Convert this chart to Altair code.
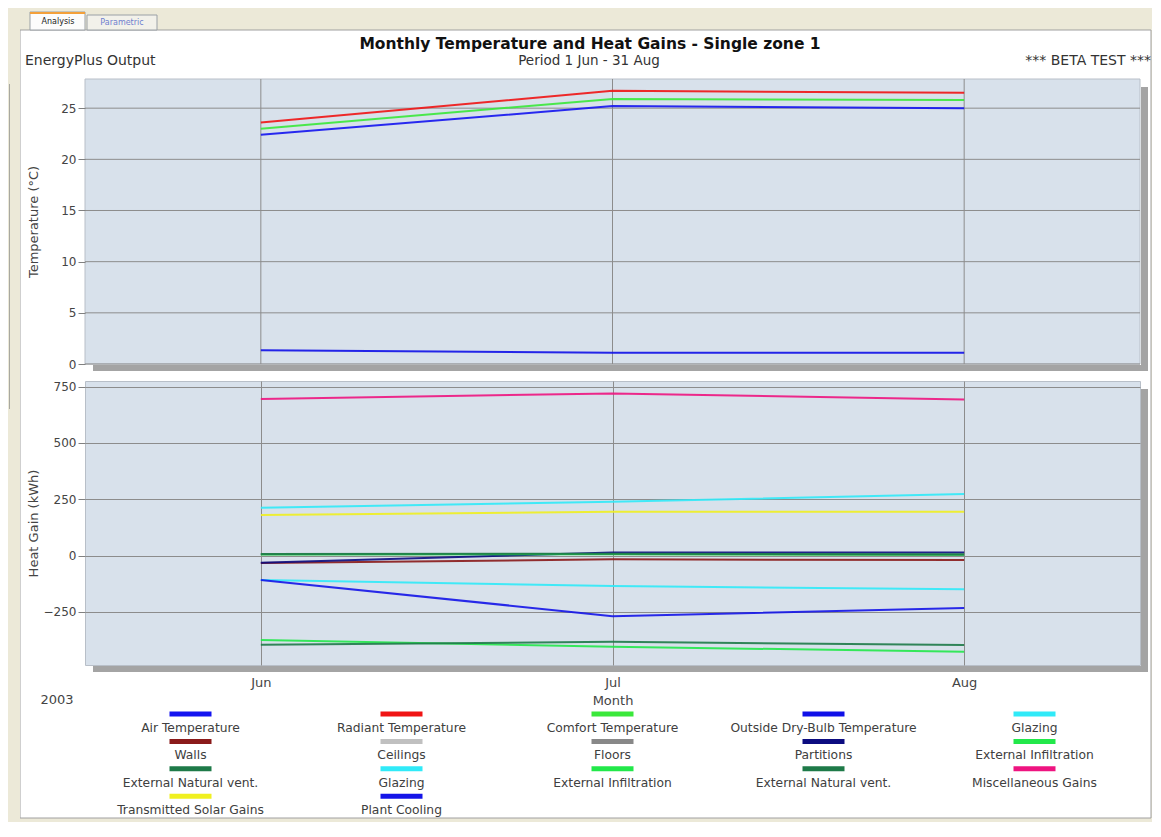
import altair as alt
import pandas as pd

# ---------------- data ----------------
month_labels = ["Jun", "Jul", "Aug"]

# Temperatures (°C)
air_temperature = [22.4, 25.2, 25.0]
radiant_temperature = [23.6, 26.7, 26.5]
comfort_temperature = [23.0, 25.9, 25.8]
outside_drybulb_temperature = [1.35, 1.1, 1.1]

# Heat gains (kWh)
glazing_a = [-109, -135, -150]
walls = [-33, -17, -20]
ceilings = [6, 7, 5]
floors = [6, 7, 5]
partitions = [-32, 14, 14]
external_infiltration_a = [5, 6, 4]
external_natural_vent_a = [7, 8, 5]
glazing_b = [212, 239, 273]
external_infiltration_b = [-375, -405, -427]
external_natural_vent_b = [-396, -383, -397]
miscellaneous_gains = [695, 720, 693]
transmitted_solar_gains = [180, 194, 194]
plant_cooling = [-109, -269, -233]

temp_ticks = [0, 5, 10, 15, 20, 25]
gain_ticks = [-250, 0, 250, 500, 750]

temp_keys = ["air", "radiant", "comfort", "outside"]
temp_values = [air_temperature, radiant_temperature, comfort_temperature,
               outside_drybulb_temperature]

gain_keys = ["ceilings", "floors", "glazing_a", "walls", "partitions",
             "extinf_a", "natvent_a", "glazing_b", "extinf_b", "natvent_b",
             "misc", "solar", "plant"]
gain_values = [ceilings, floors, glazing_a, walls, partitions,
               external_infiltration_a, external_natural_vent_a, glazing_b,
               external_infiltration_b, external_natural_vent_b,
               miscellaneous_gains, transmitted_solar_gains, plant_cooling]

legend_keys = ["air", "radiant", "comfort", "outside", "glazing_a",
               "walls", "ceilings", "floors", "partitions", "extinf_a",
               "natvent_a", "glazing_b", "extinf_b", "natvent_b", "misc",
               "solar", "plant"]
legend_labels = ["Air Temperature", "Radiant Temperature", "Comfort Temperature",
                 "Outside Dry-Bulb Temperature", "Glazing",
                 "Walls", "Ceilings", "Floors", "Partitions", "External Infiltration",
                 "External Natural vent.", "Glazing", "External Infiltration",
                 "External Natural vent.", "Miscellaneous Gains",
                 "Transmitted Solar Gains", "Plant Cooling"]

# ---------------- styles ----------------
series_colors = ["#1414f0", "#f01414", "#3ae83a", "#1010e8", "#30eaf8",
                 "#8a1a1a", "#c0c0c0", "#888888", "#0c0c80", "#22e84a",
                 "#1e7a48", "#30eaf8", "#22e84a", "#1e7a48", "#ee1480",
                 "#f0f020", "#1414e8"]

FONT = "DejaVu Sans"
GRID = "#8c8c8c"
TXT = "#444444"
PLOT_BG = "#d8e1eb"
BEIGE = "#ece9d8"
W = 1055
H1 = 285
H2 = 284

color_scale = alt.Scale(domain=legend_keys, range=series_colors)


def long_table(keys, values):
    rows = []
    for k, vals in zip(keys, values):
        for i, (m, v) in enumerate(zip(month_labels, vals)):
            rows.append({"key": k, "month": m, "idx": i, "value": v})
    return pd.DataFrame(rows)


temp_df = long_table(temp_keys, temp_values)
gain_df = long_table(gain_keys, gain_values)
month_df = pd.DataFrame({"month": month_labels})
temp_tick_df = pd.DataFrame({"value": temp_ticks})

dummy = alt.Data(values=[{"a": 1}])

xscale = alt.Scale(type="point", domain=month_labels, padding=0.5)
temp_yscale = alt.Scale(domain=[0, 27.85], nice=False, zero=False)
gain_yscale = alt.Scale(domain=[-486, 775], nice=False, zero=False)


def y_axis(ticks, title, H, grid, z):
    return alt.Axis(values=ticks, title=title, grid=grid, gridColor=GRID,
                    gridOpacity=1, domain=False, ticks=True, tickColor="#808080",
                    tickSize=7, labelPadding=2, labelFont=FONT, labelFontSize=12,
                    labelColor=TXT, titleFont=FONT, titleFontSize=13,
                    titleFontWeight="normal", titleColor=TXT, titleAngle=-90,
                    titleX=-52, titleY=H / 2, titleAlign="center",
                    titleBaseline="middle", zindex=z)


def rect_at(x, x2, y, y2, **kw):
    return alt.Chart(dummy).mark_rect(**kw).encode(
        x=alt.value(x), x2=alt.value(x2), y=alt.value(y), y2=alt.value(y2))


def shadows(H):
    return [rect_at(W + 1, W + 8, 8, H + 7, color="#a4a4a4"),
            rect_at(8, W + 8, H + 1, H + 7, color="#a4a4a4")]


def text_at(text, x, y, **kw):
    return alt.Chart(dummy).mark_text(text=text, font=FONT, **kw).encode(
        x=alt.value(x), y=alt.value(y))


# ---------------- application frame (drawn in the top panel) ----------------
# offsets relative to top plot origin (page 85, 79)
frame = [
    rect_at(-77, 1066, -71, 743, color=BEIGE),                 # whole window
    rect_at(-65, 1066, -49, 739, fill="white", stroke="#a0a0a0",
            strokeWidth=1),                                   # content area
    rect_at(-55, 0, -67, -49, fill="#fcfcfc", stroke="#9aa0a6",
            strokeWidth=1),                                   # Analysis tab
    rect_at(-55, 0, -67, -65, color="#f3a03a"),               # orange top
    rect_at(2, 72, -64, -49, fill="#f2f1ea", stroke="#9aa0a6",
            strokeWidth=1),                                   # Parametric tab
    rect_at(-77, -65, -49, 743, color=BEIGE),
    rect_at(-76, -75, 5, 330, color="#a8a8a0"),
    text_at("Analysis", -27, -57, fontSize=8, color="#222222",
            align="center", baseline="middle"),
    text_at("Parametric", 37, -56, fontSize=8, color="#6f7fd0",
            align="center", baseline="middle"),
]

# ---------------- top panel: temperatures ----------------
top_x_axis = alt.Axis(grid=False, labels=False, ticks=False, domain=False,
                      title=None)

temp_axis = y_axis(temp_ticks, "Temperature (°C)", H1, False, 1)

plot_bg = rect_at(0, W, 0, H1, fill=PLOT_BG, stroke="#b8bfc8", strokeWidth=1)

h_grid = alt.Chart(temp_tick_df).mark_rule(color=GRID, strokeWidth=1).encode(
    y=alt.Y("value:Q", scale=temp_yscale, axis=temp_axis))
v_grid = alt.Chart(month_df).mark_rule(color=GRID, strokeWidth=1).encode(
    x=alt.X("month:O", scale=xscale, axis=top_x_axis))

temp_lines = alt.Chart(temp_df).mark_line(strokeWidth=2, opacity=0.9).encode(
    x=alt.X("month:O", scale=xscale, axis=top_x_axis),
    y=alt.Y("value:Q", scale=temp_yscale, axis=temp_axis),
    color=alt.Color("key:N", scale=color_scale, legend=None),
    order="idx:Q",
)

top = alt.layer(
    *frame,
    plot_bg,
    h_grid,
    v_grid,
    *shadows(H1),
    temp_lines,
    text_at("Monthly Temperature and Heat Gains - Single zone 1", 505, -35,
            fontSize=15.5, fontWeight="bold", color="#111111", align="center",
            baseline="middle"),
    text_at("Period 1 Jun - 31 Aug", 504, -18, fontSize=13.5, color="#333333",
            align="center", baseline="middle"),
    text_at("EnergyPlus Output", -60, -18, fontSize=14, color="#333333",
            align="left", baseline="middle"),
    text_at("*** BETA TEST ***", 1066, -18, fontSize=14, color="#333333",
            align="right", baseline="middle"),
).properties(width=W, height=H1)

# ---------------- bottom panel: heat gains ----------------
bottom_x_axis = alt.Axis(grid=True, gridColor=GRID, gridOpacity=1, labels=True,
                         ticks=False, domain=False, title="Month", labelPadding=11,
                         labelFont=FONT, labelFontSize=13, labelColor=TXT,
                         labelAngle=0, titleFont=FONT, titleFontSize=13,
                         titleFontWeight="normal", titleColor=TXT, titleY=35,
                         titleBaseline="middle")

gain_lines = alt.Chart(gain_df).mark_line(strokeWidth=2, opacity=0.9).encode(
    x=alt.X("month:O", scale=xscale, axis=bottom_x_axis),
    y=alt.Y("value:Q", scale=gain_yscale,
            axis=y_axis(gain_ticks, "Heat Gain (kWh)", H2, True, 0)),
    color=alt.Color("key:N", scale=color_scale, legend=None),
    order="idx:Q",
)

bottom = alt.layer(
    *shadows(H2),
    gain_lines,
    text_at("2003", -28, H2 + 35, fontSize=13, color=TXT, align="center",
            baseline="middle"),
).properties(width=W, height=H2,
             view=alt.ViewBackground(fill=PLOT_BG, stroke="#b8bfc8"))

# ---------------- legend ----------------
leg_df = pd.DataFrame({
    "key": legend_keys,
    "label": legend_labels,
    "col": [i % 5 for i in range(len(legend_keys))],
    "row": [i // 5 for i in range(len(legend_keys))],
})

leg_x = alt.X("col:Q", scale=alt.Scale(domain=[-0.5, 4.5], nice=False, zero=False),
              axis=None)
leg_y = alt.Y("row:Q", scale=alt.Scale(domain=[-1.168, 3.941], nice=False,
                                       zero=False, reverse=True), axis=None)

swatches = alt.Chart(leg_df).mark_tick(orient="horizontal", size=42,
                                        thickness=5, opacity=1).encode(
    x=leg_x, y=leg_y,
    color=alt.Color("key:N", scale=color_scale, legend=None),
)
leg_text = alt.Chart(leg_df).mark_text(dy=14, fontSize=12.3, font=FONT,
                                       color="#404040", baseline="middle").encode(
    x=leg_x, y=leg_y, text="label:N")

legend = alt.layer(swatches, leg_text).properties(width=W, height=140)

chart = alt.vconcat(top, bottom, legend, spacing=17, bounds="flush").properties(
    padding=0,
    background=BEIGE,
).configure_view(stroke=None)

chart.save("out.html", embed_options={"renderer": "svg", "actions": False})
